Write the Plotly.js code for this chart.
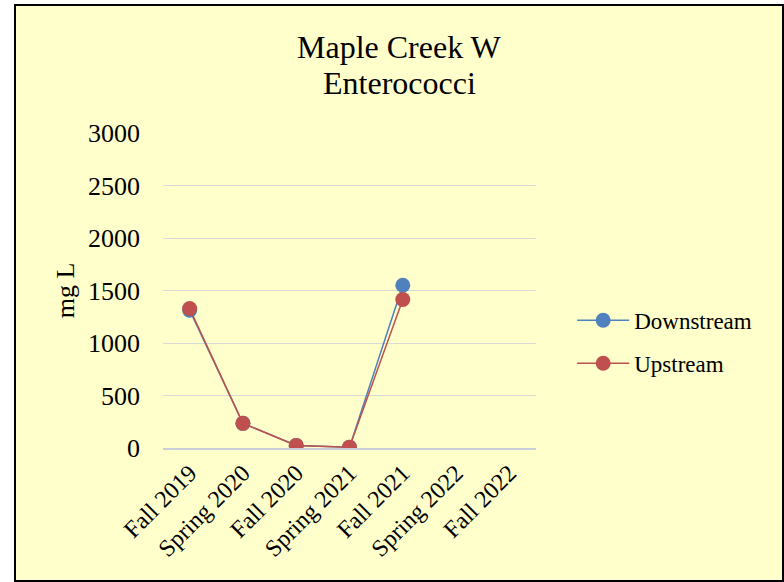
<!DOCTYPE html>
<html>
<head>
<meta charset="utf-8">
<script src="https://cdn.plot.ly/plotly-3.0.1.min.js"></script>
<style>
  body { margin: 0; background: #ffffff; }
  #frame {
    position: absolute; left: 14px; top: 4px;
    width: 766px; height: 574px;
    border: 2px solid #000000;
    background: #FFFFCC;
  }
  #chart { width: 766px; height: 574px; }
</style>
</head>
<body>
<div id="frame"><div id="chart"></div></div>
<script>
// seasons on the x axis
const seasons = ["Fall 2019", "Spring 2020", "Fall 2020", "Spring 2021", "Fall 2021", "Spring 2022", "Fall 2022"];

// readings (mg L), null where nothing was sampled
const downstream = [1312, 235, 25, 8, 1550, null, null];
const upstream = [1328, 235, 25, 8, 1415, null, null];

const yTicks = [0, 500, 1000, 1500, 2000, 2500, 3000];

const serif = "'Liberation Serif', 'Times New Roman', serif";

const data = [
    {
        x: seasons, y: downstream, name: 'Downstream', type: 'scatter', mode: 'lines+markers',
        line: { color: '#4F81BD', width: 1.5 },
        marker: { color: '#4F81BD', size: 15 },
        legendgroup: 'a'
    },
    {
        x: seasons, y: upstream, name: 'Upstream', type: 'scatter', mode: 'lines+markers',
        line: { color: '#C0504D', width: 1.5 },
        marker: { color: '#C0504D', size: 15 },
        legendgroup: 'b'
    }
];

const layout = {
    width: 766,
    height: 574,
    margin: { l: 147, r: 246, t: 127, b: 132, autoexpand: false },
    paper_bgcolor: '#FFFFCC',
    plot_bgcolor: '#FFFFCC',
    font: { family: serif, color: '#000000', size: 26 },
    showlegend: true,
    legend: {
        x: 1.097, xanchor: 'left',
        y: 0.337, yanchor: 'middle',
        bgcolor: 'rgba(0,0,0,0)',
        font: { family: serif, size: 23 },
        itemwidth: 52,
        traceorder: 'grouped',
        tracegroupgap: 10
    },
    xaxis: {
        type: 'category',
        range: [-0.5, 6.5],
        tickangle: -45,
        showgrid: false,
        showline: true,
        linecolor: '#C9CEDD',
        linewidth: 1.5,
        ticks: '',
        tickfont: { family: serif, size: 24 },
        automargin: false,
        fixedrange: true
    },
    yaxis: {
        range: [0, 3000],
        tickvals: yTicks,
        ticktext: yTicks.map(String),
        showgrid: true,
        gridcolor: '#D9D9D9',
        gridwidth: 1,
        zeroline: false,
        showline: false,
        ticks: '',
        ticklabelstandoff: 22,
        tickfont: { family: serif, size: 26 },
        title: { text: 'mg L', font: { family: serif, size: 26 }, standoff: 5 },
        automargin: false,
        fixedrange: true
    },
    annotations: [
        {
            text: 'Maple Creek W', xref: 'paper', yref: 'paper',
            x: 0.5, y: 1, xanchor: 'center', yanchor: 'middle', showarrow: false,
            font: { family: serif, size: 32 }
        },
        {
            text: 'Enterococci', xref: 'paper', yref: 'paper',
            x: 0.5, y: 1, xanchor: 'center', yanchor: 'middle', showarrow: false,
            font: { family: serif, size: 32 }
        }
    ]
};

// place title lines in container coordinates (centred on the chart, not the plot area)
const plotW = 766 - 147 - 246;
const plotH = 574 - 127 - 132;
function paperX(px) { return (px - 147) / plotW; }
function paperY(py) { return (574 - 132 - py) / plotH; }
layout.annotations[0].x = paperX(383);
layout.annotations[0].y = paperY(41);
layout.annotations[1].x = paperX(383);
layout.annotations[1].y = paperY(77);

Plotly.newPlot('chart', data, layout, { displayModeBar: false, staticPlot: true });
</script>
</body>
</html>
